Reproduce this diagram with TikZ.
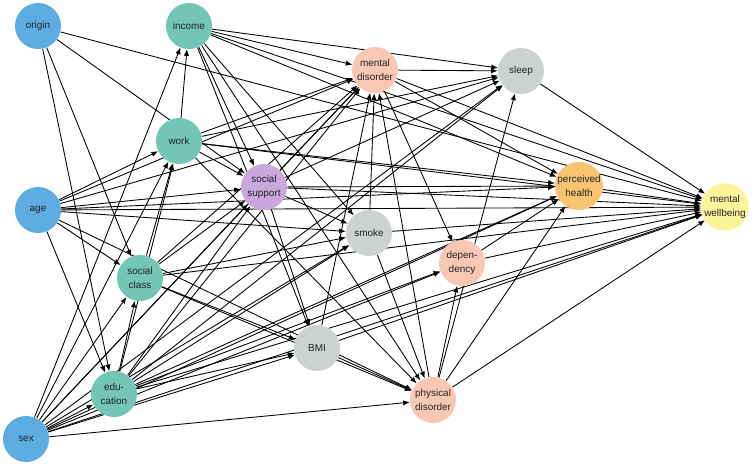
\documentclass[tikz,border=0pt]{standalone}
\usepackage{fontspec}
\setmainfont{Liberation Sans}
\usepackage{xcolor}
\usetikzlibrary{arrows.meta, backgrounds}
\definecolor{bl}{HTML}{5DADE2}
\definecolor{tl}{HTML}{73C6B6}
\definecolor{sa}{HTML}{F9C8B5}
\definecolor{gy}{HTML}{CCD1D1}
\definecolor{pu}{HTML}{C9A8DB}
\definecolor{or}{HTML}{F8C471}
\definecolor{ye}{HTML}{FBF49C}
\definecolor{tx}{HTML}{222222}
\begin{document}
\begin{tikzpicture}[x=0.0265cm, y=-0.0265cm,
  var/.style={circle, minimum size=1.22cm, inner sep=0pt, align=center, text=tx,
    font=\fontsize{7.5}{10.5}\selectfont},
  arc/.style={-{Latex[length=5pt,width=4pt]}, line width=0.65pt}]
\useasboundingbox (0,0) rectangle (755,466);
\foreach \n/\x/\y/\c/\t in {origin/38/26/bl/origin, income/189/26/tl/income,
  mdis/375/70/sa/mental\\disorder, sleep/521/71/gy/sleep, work/179/141/tl/work,
  ssup/264/187/pu/social\\support, phealth/579/186/or/perceived\\health,
  age/38/210/bl/age, smoke/369/233/gy/smoke, mwb/725/207/ye/mental\\wellbeing,
  sclass/140/278/tl/social\\class, dep/462/263/sa/depen-\\dency, bmi/317/348/gy/BMI,
  edu/114/394/tl/edu-\\cation, pdis/433/400/sa/physical\\disorder, sex/26/439/bl/sex}{
\node[var, fill=\c] (\n) at (\x,\y) {\t};
}
\begin{scope}[on background layer]
\foreach \a/\b in {origin/edu, origin/sclass, origin/ssup, origin/mwb,
  age/edu, age/sclass, age/work, age/ssup, age/smoke, age/mdis, age/sleep,
  age/phealth, age/pdis, age/mwb,
  sex/edu, sex/sclass, sex/work, sex/income, sex/ssup, sex/smoke, sex/bmi,
  sex/mdis, sex/sleep, sex/pdis, sex/dep, sex/phealth, sex/mwb,
  edu/sclass, edu/work, edu/ssup, edu/smoke, edu/bmi, edu/mdis, edu/sleep,
  edu/dep, edu/phealth, edu/mwb,
  sclass/work, sclass/ssup, sclass/smoke, sclass/bmi, sclass/mdis, sclass/pdis, sclass/mwb,
  work/income, work/ssup, work/mdis, work/sleep, work/phealth, work/pdis, work/mwb,
  income/ssup, income/smoke, income/bmi, income/mdis, income/sleep, income/pdis,
  income/phealth, income/mwb,
  ssup/smoke, ssup/bmi, ssup/mdis, ssup/sleep, ssup/phealth, ssup/mwb,
  smoke/mdis, smoke/pdis, smoke/mwb,
  bmi/mdis, bmi/pdis, bmi/mwb,
  mdis/sleep, mdis/dep, mdis/phealth, mdis/mwb,
  pdis/mdis, pdis/dep, pdis/sleep, pdis/phealth, pdis/mwb,
  dep/phealth, dep/mwb, sleep/mwb, phealth/mwb}{
\draw[arc] (\a) -- (\b);
}
\end{scope}
\end{tikzpicture}
\end{document}
